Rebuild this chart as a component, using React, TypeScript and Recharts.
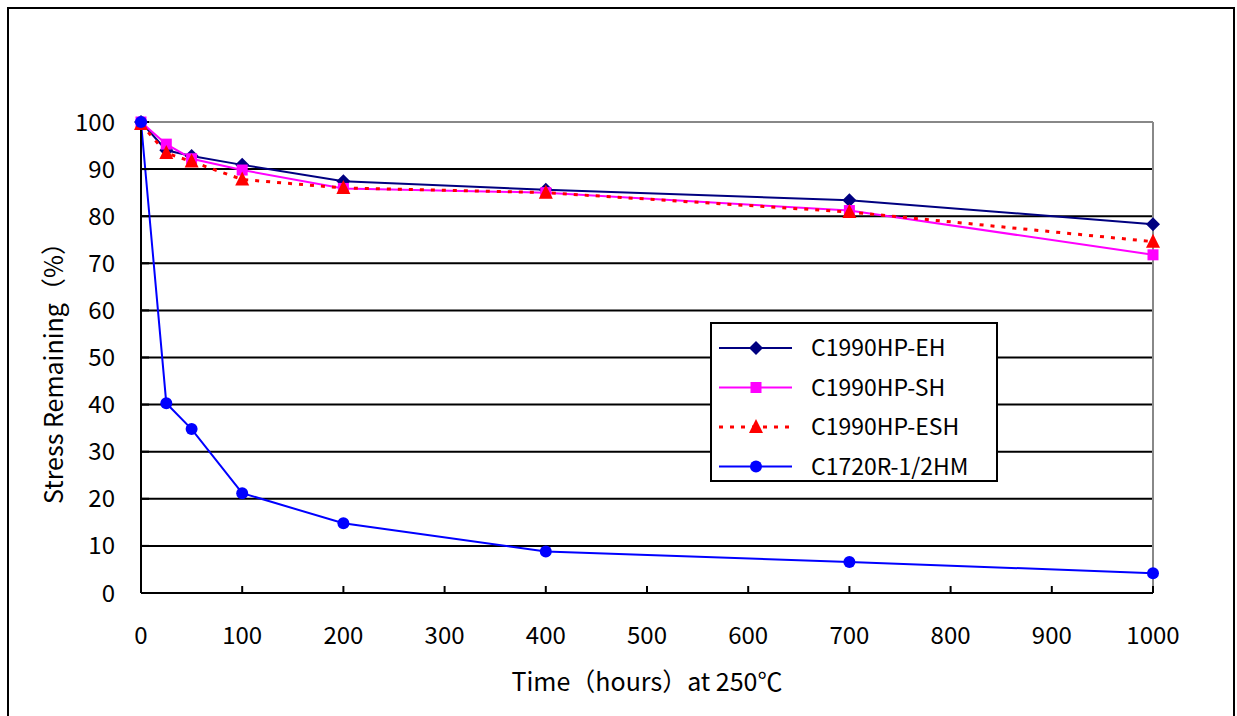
import React from 'react';
import { CartesianGrid, Line, LineChart, ReferenceLine, XAxis, YAxis } from 'recharts';

const hours = [0, 25, 50, 100, 200, 400, 700, 1000];
const ehValues = [100, 94.0, 92.8, 90.9, 87.4, 85.6, 83.4, 78.3];
const shValues = [100, 95.3, 92.2, 89.8, 85.9, 85.0, 81.2, 71.8];
const eshValues = [99.6, 93.4, 91.6, 87.8, 86.0, 85.0, 80.9, 74.6];
const hmValues = [100, 40.3, 34.8, 21.2, 14.8, 8.8, 6.6, 4.2];

const xTicks = [0, 100, 200, 300, 400, 500, 600, 700, 800, 900, 1000];
const yTicks = [0, 10, 20, 30, 40, 50, 60, 70, 80, 90, 100];

const data = hours.map((h, i) => ({
  hours: h,
  eh: ehValues[i],
  sh: shValues[i],
  esh: eshValues[i],
  hm: hmValues[i],
}));

const FONT = "'Noto Sans CJK JP', 'Noto Sans', sans-serif";

type Shape = 'diamond' | 'square' | 'triangle' | 'circle';

function Marker({ cx, cy, shape, color }: { cx: number; cy: number; shape: Shape; color: string }) {
  if (cx == null || cy == null) return null;
  if (shape === 'diamond') {
    const r = 7;
    return <polygon points={`${cx},${cy - r} ${cx + r},${cy} ${cx},${cy + r} ${cx - r},${cy}`} fill={color} />;
  }
  if (shape === 'square') {
    const r = 5.5;
    return <rect x={cx - r} y={cy - r} width={r * 2} height={r * 2} fill={color} />;
  }
  if (shape === 'triangle') {
    return <polygon points={`${cx},${cy - 8} ${cx + 7},${cy + 6} ${cx - 7},${cy + 6}`} fill={color} />;
  }
  return <circle cx={cx} cy={cy} r={6} fill={color} />;
}

const series = [
  { key: 'eh', name: 'C1990HP-EH', color: '#000080', shape: 'diamond' as Shape, dash: undefined, width: 2 },
  { key: 'sh', name: 'C1990HP-SH', color: '#FF00FF', shape: 'square' as Shape, dash: undefined, width: 2 },
  { key: 'esh', name: 'C1990HP-ESH', color: '#FF0000', shape: 'triangle' as Shape, dash: '4 7', width: 3 },
  { key: 'hm', name: 'C1720R-1/2HM', color: '#0000FF', shape: 'circle' as Shape, dash: undefined, width: 2 },
];

function LegendBox() {
  return (
    <div
      style={{
        position: 'absolute',
        left: 710,
        top: 322,
        width: 288,
        height: 160,
        border: '2px solid #000',
        boxSizing: 'border-box',
        background: '#fff',
      }}
    >
      <svg width={284} height={156} style={{ display: 'block', overflow: 'visible' }}>
        {series.map((s, i) => {
          const y = 24 + i * 39.5;
          return (
            <g key={s.key}>
              <line x1={7} x2={80} y1={y} y2={y} stroke={s.color} strokeWidth={s.width} strokeDasharray={s.dash} />
              <Marker cx={44} cy={y} shape={s.shape} color={s.color} />
              <text x={99} y={y} dy="0.36em" fontSize={23} fill="#000" fontFamily={FONT}>
                {s.name}
              </text>
            </g>
          );
        })}
      </svg>
    </div>
  );
}

export default function App() {
  return (
    <div style={{ position: 'relative', width: 1237, height: 716, overflow: 'hidden', background: '#fff' }}>
      <style>{`html,body{margin:0;overflow:hidden;}`}</style>
      <div
        style={{
          position: 'absolute',
          left: 7,
          top: 7,
          width: 1228,
          height: 740,
          border: '2px solid #000',
          boxSizing: 'border-box',
        }}
      />
      <div style={{ position: 'absolute', left: 0, top: 0 }}>
        <LineChart width={1237} height={716} data={data} margin={{ top: 122, right: 84, left: 81, bottom: 93 }}>
          <CartesianGrid vertical={false} stroke="#000" strokeWidth={2} />
          <XAxis
            dataKey="hours"
            type="number"
            domain={[0, 1000]}
            ticks={xTicks}
            height={30}
            stroke="#000"
            strokeWidth={2}
            tickSize={-7}
            tickMargin={41}
            tick={{ fontSize: 24, fill: '#000', fontFamily: FONT }}
          />
          <YAxis
            type="number"
            domain={[0, 100]}
            ticks={yTicks}
            width={60}
            stroke="#000"
            strokeWidth={2}
            tickSize={-8}
            tickMargin={34}
            tick={{ fontSize: 24, fill: '#000', fontFamily: FONT }}
          />
          <ReferenceLine y={100} stroke="#888" strokeWidth={2} />
          <ReferenceLine x={1000} stroke="#888" strokeWidth={2} />
          {series.map((s) => (
            <Line
              key={s.key}
              type="linear"
              dataKey={s.key}
              name={s.name}
              stroke={s.color}
              strokeWidth={s.width}
              strokeDasharray={s.dash}
              dot={(p: any) => <Marker key={`${s.key}-${p.index}`} cx={p.cx} cy={p.cy} shape={s.shape} color={s.color} />}
              activeDot={false}
              isAnimationActive={false}
            />
          ))}
        </LineChart>
      </div>
      <LegendBox />
      <div
        style={{
          position: 'absolute',
          left: 52,
          top: 367,
          transform: 'translate(-50%, -50%) rotate(-90deg)',
          whiteSpace: 'nowrap',
          fontSize: 25,
          fontFamily: FONT,
          color: '#000',
        }}
      >
        Stress Remaining（%）
      </div>
      <div
        style={{
          position: 'absolute',
          left: 647,
          top: 680,
          transform: 'translate(-50%, -50%)',
          whiteSpace: 'nowrap',
          fontSize: 25,
          fontFamily: FONT,
          color: '#000',
        }}
      >
        Time（hours）at 250℃
      </div>
    </div>
  );
}
